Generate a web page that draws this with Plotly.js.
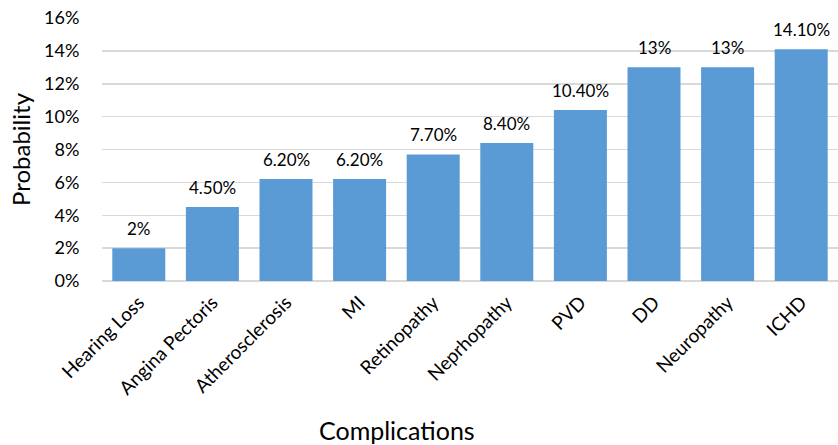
<!DOCTYPE html>
<html>
<head>
<meta charset="utf-8">
<script src="https://cdn.plot.ly/plotly-3.0.1.min.js"></script>
<style>html,body{margin:0;padding:0;background:#fff;}#chart{width:838px;height:445px;}</style>
</head>
<body>
<div id="chart"></div>
<script>
const categories = ["Hearing Loss", "Angina Pectoris", "Atherosclerosis", "MI", "Retinopathy", "Neprhopathy", "PVD", "DD", "Neuropathy", "ICHD"];
const probabilities = [0.02, 0.045, 0.062, 0.062, 0.077, 0.084, 0.104, 0.13, 0.13, 0.141];
const valueLabels = ["2%", "4.50%", "6.20%", "6.20%", "7.70%", "8.40%", "10.40%", "13%", "13%", "14.10%"];
const yTickValues = [0, 0.02, 0.04, 0.06, 0.08, 0.10, 0.12, 0.14, 0.16];

const font = "Lato, 'Open Sans', sans-serif";

const trace = {
  type: 'bar',
  x: categories,
  y: probabilities,
  marker: {color: '#5B9BD5'},
  hoverinfo: 'none'
};

const annotations = categories.map((c, i) => ({
  x: c, y: probabilities[i], xref: 'x', yref: 'y',
  text: valueLabels[i], showarrow: false,
  yanchor: 'bottom', yshift: 7,
  font: {family: font, size: 17, color: '#000'}
}));
annotations.push({
  xref: 'paper', yref: 'paper', x: (397 - 102) / 736, y: -0.565,
  xanchor: 'center', yanchor: 'middle', showarrow: false,
  text: 'Complications', font: {family: font, size: 25, color: '#000'}
});

const layout = {
  width: 838, height: 445,
  margin: {l: 102, r: 0, t: 18, b: 164},
  paper_bgcolor: '#fff', plot_bgcolor: '#fff',
  showlegend: false,
  bargap: 0.28,
  font: {family: font, color: '#000'},
  xaxis: {
    type: 'category',
    tickangle: -45,
    tickfont: {family: font, size: 19, color: '#000'},
    showgrid: false, zeroline: false, showline: false,
    ticks: 'outside', ticklen: 2, tickcolor: 'rgba(0,0,0,0)', automargin: false
  },
  yaxis: {
    range: [0, 0.16],
    tickvals: yTickValues,
    tickformat: '.0%',
    tickfont: {family: font, size: 18, color: '#000'},
    showgrid: true, gridcolor: '#d9d9d9', gridwidth: 1.5,
    zeroline: true, zerolinecolor: '#d9d9d9', zerolinewidth: 1.5,
    showline: false, ticks: 'outside', ticklen: 18, tickcolor: 'rgba(0,0,0,0)',
    automargin: false,
    title: {text: 'Probability', font: {family: font, size: 24, color: '#000'}, standoff: 6}
  },
  annotations: annotations
};

Plotly.newPlot('chart', [trace], layout, {displayModeBar: false, staticPlot: true});
</script>
</body>
</html>
